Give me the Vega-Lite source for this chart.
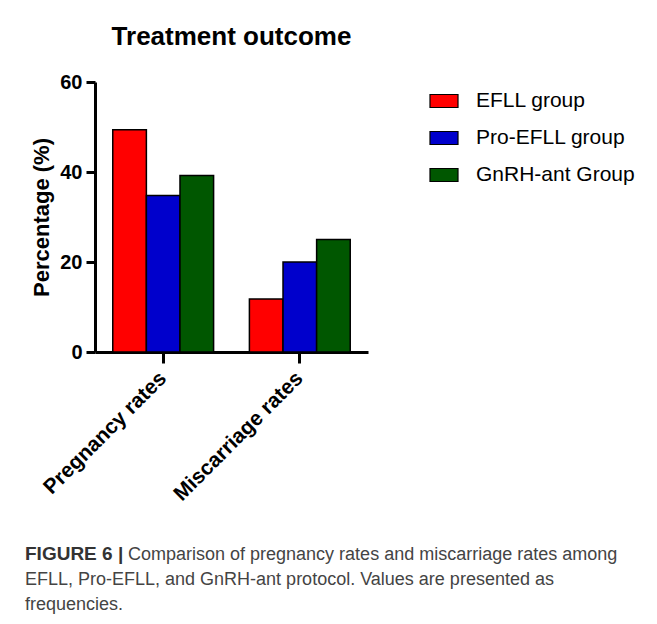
{
  "$schema": "https://vega.github.io/schema/vega-lite/v6.json",
  "background": "white",
  "padding": {"left": 25, "top": 24, "right": 5, "bottom": 5},
  "config": {"view": {"stroke": null}, "font": "Liberation Sans"},
  "columns": 1,
  "align": "none",
  "spacing": 40,
  "resolve": {"legend": {"color": "independent"}, "scale": {"color": "independent"}},
  "concat": [
    {
      "width": 273,
      "height": 270,
      "title": {"text": "Treatment outcome", "fontSize": 26, "fontWeight": "bold", "font": "Liberation Sans", "color": "black", "anchor": "middle", "offset": 22},
      "data": {"values": [
        {"outcome": "Pregnancy rates", "group": "EFLL group", "pct": 49.4},
        {"outcome": "Pregnancy rates", "group": "Pro-EFLL group", "pct": 34.8},
        {"outcome": "Pregnancy rates", "group": "GnRH-ant Group", "pct": 39.2},
        {"outcome": "Miscarriage rates", "group": "EFLL group", "pct": 11.8},
        {"outcome": "Miscarriage rates", "group": "Pro-EFLL group", "pct": 20.0},
        {"outcome": "Miscarriage rates", "group": "GnRH-ant Group", "pct": 25.0}
      ]},
      "mark": {"type": "bar", "stroke": "black", "strokeWidth": 1.5},
      "encoding": {
        "x": {
          "field": "outcome", "type": "nominal",
          "sort": ["Pregnancy rates", "Miscarriage rates"],
          "scale": {"paddingInner": 0.262, "paddingOuter": 0.13},
          "axis": {
            "title": null, "labelAngle": -45, "labelAlign": "right", "labelBaseline": "middle",
            "labelFontSize": 21, "labelFontWeight": "bold", "labelColor": "black", "labelFont": "Liberation Sans",
            "labelPadding": 12, "domainColor": "black", "domainWidth": 3, "tickColor": "black", "tickWidth": 3, "tickSize": 11
          }
        },
        "xOffset": {"field": "group", "sort": ["EFLL group", "Pro-EFLL group", "GnRH-ant Group"], "scale": {"paddingInner": 0, "paddingOuter": 0}},
        "y": {
          "field": "pct", "type": "quantitative",
          "scale": {"domain": [0, 60], "nice": false},
          "axis": {
            "title": "Percentage (%)", "titleFontSize": 22, "titleFontWeight": "bold", "titleColor": "black", "titleFont": "Liberation Sans", "titlePadding": 6,
            "values": [0, 20, 40, 60], "grid": false,
            "labelFontSize": 20, "labelFontWeight": "bold", "labelColor": "black", "labelFont": "Liberation Sans", "labelPadding": 4,
            "domainColor": "black", "domainWidth": 3, "tickColor": "black", "tickWidth": 3, "tickSize": 9
          }
        },
        "color": {
          "field": "group", "type": "nominal",
          "scale": {"domain": ["EFLL group", "Pro-EFLL group", "GnRH-ant Group"], "range": ["#FF0000", "#0000CC", "#005700"]},
          "legend": {
            "title": null, "orient": "right", "offset": 57, "padding": 4,
            "symbolType": "M-1,-0.464H1V0.464H-1Z", "symbolSize": 784, "symbolStrokeColor": "black", "symbolStrokeWidth": 1.2, "symbolOpacity": 1,
            "labelFontSize": 21, "labelFont": "Liberation Sans", "labelColor": "black", "labelOffset": 17, "rowPadding": 12, "labelLimit": 300
          }
        }
      }
    },
    {
      "width": 560,
      "height": 50,
      "data": {"values": [
        {"line": 1, "part": "bold", "text": "FIGURE 6 |"},
        {"line": 1, "part": "regular", "text": "Comparison of pregnancy rates and miscarriage rates among"},
        {"line": 2, "part": "regular0", "text": "EFLL, Pro-EFLL, and GnRH-ant protocol. Values are presented as"},
        {"line": 3, "part": "regular0", "text": "frequencies."}
      ]},
      "encoding": {
        "y": {"field": "line", "type": "ordinal", "axis": null, "scale": {"type": "point", "padding": 0}},
        "text": {"field": "text"}
      },
      "layer": [
        {
          "transform": [{"filter": "datum.part == 'bold'"}],
          "mark": {"type": "text", "align": "left", "baseline": "alphabetic", "fontWeight": "bold", "fontSize": 19, "color": "#333333", "x": -70}
        },
        {
          "transform": [{"filter": "datum.part == 'regular'"}],
          "mark": {"type": "text", "align": "left", "baseline": "alphabetic", "fontSize": 18, "color": "#444444", "x": -70, "dx": 103}
        },
        {
          "transform": [{"filter": "datum.part == 'regular0'"}],
          "mark": {"type": "text", "align": "left", "baseline": "alphabetic", "fontSize": 18, "color": "#444444", "x": -70}
        }
      ]
    }
  ]
}
